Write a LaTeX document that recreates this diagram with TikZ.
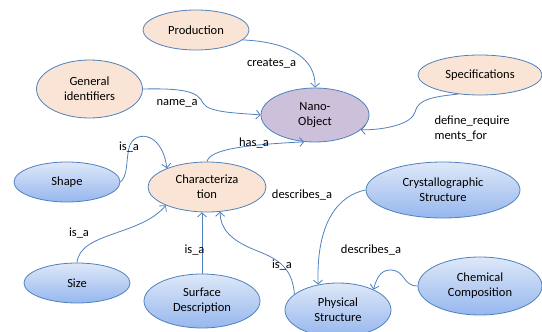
\documentclass[tikz,border=0pt]{standalone}
\usepackage{fontspec}
\setmainfont{Carlito}
\usetikzlibrary{shapes.geometric,arrows.meta}
\definecolor{lineblue}{RGB}{79,129,189}
\definecolor{peach}{RGB}{250,228,213}
\definecolor{lilac}{RGB}{204,192,218}
\definecolor{skytop}{RGB}{222,232,248}
\definecolor{skybot}{RGB}{150,183,238}

\begin{document}
\begin{tikzpicture}[x=1pt,y=-1pt,
 font=\fontsize{12.5}{15}\selectfont,
 concept/.style={ellipse,draw=lineblue,line width=0.8pt,inner sep=0pt,align=center},
 topic/.style={concept,fill=peach},
 facet/.style={concept,top color=skytop,bottom color=skybot},
 rel/.style={draw=lineblue,line width=0.8pt,-{Straight Barb[length=4pt,width=9pt]}}]
 \useasboundingbox (0,0) rectangle (542,332); %枠

 \node[concept,fill=lilac,minimum width=108,minimum height=54] (nano) at (315,115) {Nano-\\Object}; %中心
 \node[topic,minimum width=106,minimum height=40] (prod) at (196,30) {Production};
 \node[topic,minimum width=106,minimum height=58] (genid) at (89.5,89) {General\\identifiers};
 \node[topic,minimum width=124,minimum height=40] (spec) at (480,75) {Specifications};
 \node[topic,minimum width=118,minimum height=50] (charz) at (207,187) {Characteriza\\tion};
 \node[facet,minimum width=106,minimum height=40] (shape) at (67,182) {Shape};
 \node[facet,minimum width=106,minimum height=40] (size) at (77,283) {Size};
 \node[facet,minimum width=116,minimum height=54] (surf) at (202,301) {Surface\\Description};
 \node[facet,minimum width=154,minimum height=56] (cryst) at (443,190) {Crystallographic\\Structure};
 \node[facet,minimum width=124,minimum height=58] (chem) at (480,286) {Chemical\\Composition};
 \node[facet,minimum width=106,minimum height=54] (phys) at (338,310) {Physical\\Structure};

 \draw[rel] (prod.-12) .. controls (292,42) and (316,60) .. (nano.north); %creates_a
 \draw[rel] (genid.east) .. controls (185,88) and (198,92) .. (203,103) .. controls (208,113) and (240,113) .. (nano.west); %name_a
 \draw[rel] (spec.221) .. controls (430,97) and (418,100) .. (415,112) .. controls (412,124) and (385,130) .. (nano.-18); %define
 \draw[rel] (charz.north) .. controls (210,150) and (240,145) .. (nano.-112); %has_a
 \draw[rel] (shape.east) .. controls (128,176) and (126,160) .. (129,148) .. controls (133,130) and (162,130) .. (charz.155); %is_a
 \draw[rel] (size.north) .. controls (80,232) and (140,236) .. (charz.204); %is_a
 \draw[rel] (surf.north) -- (surf.north |- charz.south); %is_a
 \draw[rel] (phys.160) .. controls (292,265) and (275,258) .. (255,250) .. controls (230,240) and (220,228) .. (charz.-62); %is_a
 \draw[rel] (cryst.west) .. controls (340,195) and (316,220) .. (phys.128); %describes_a
 \draw[rel] (chem.west) .. controls (402,286) and (406,270) .. (390,270) .. controls (380,270) and (376,280) .. (phys.30); %describes_a

 \node (lcreate) at (271.5,63) {creates\_a};
 \node (lname) at (177,103) {name\_a};
 \node (lhas) at (254,143) {has\_a};
 \node[anchor=west,align=left] (ldefine) at (431,128) {define\_require\\ments\_for};
 \node (lshape) at (129,147) {is\_a};
 \node (lsize) at (79,233) {is\_a};
 \node (lsurf) at (194.5,250) {is\_a};
 \node (lphys) at (282,265) {is\_a};
 \node (ldescup) at (302,195) {describes\_a};
 \node (ldesclow) at (371,250) {describes\_a};
\end{tikzpicture}
\end{document}
